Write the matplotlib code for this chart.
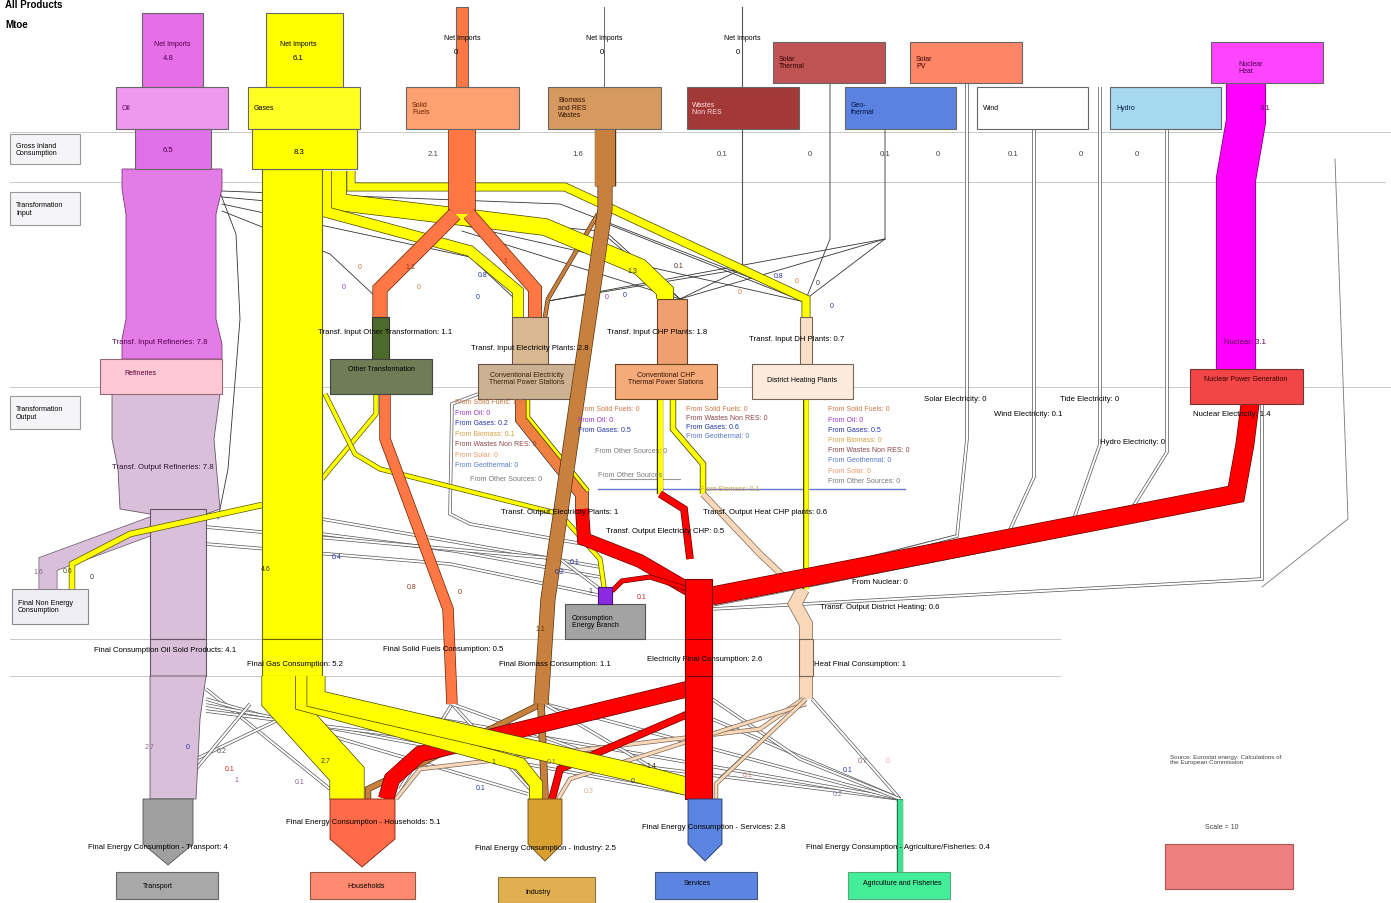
import matplotlib
matplotlib.use('Agg')
import matplotlib.pyplot as plt
import matplotlib.patheffects as pe
from matplotlib.patches import Polygon, Rectangle

plt.rcParams['font.family'] = ['Liberation Sans', 'DejaVu Sans']

# ---- values (Mtoe) ----
net_imports = [4.8, 6.1, 0, 0, 0]            # Oil, Gases, Solid, Biomass, Wastes
gic_values = [6.5, 8.3, 2.1, 1.6, 0.1, 0, 0.1, 0, 0.1, 0, 0]
nuclear_heat = 3.1
transf_in = [7.8, 1.1, 2.8, 1.8, 0.7]        # Refineries, Other, Elec, CHP, DH
gas_to_plants = [0.8, 1.3, 0.6]              # Elec, CHP, DH
solid_to_plants = [1.1, 1.0]                 # Other, Elec
biomass_final, biomass_to_elec = 1.1, 0.25
other_out_solid = 0.8
elec_out, chp_elec_out, chp_heat_out, dh_out = 1.0, 0.5, 0.6, 0.6
nuclear_elec = 1.4
non_energy_oil = 1.4
final_values = [4.1, 5.2, 0.5, 1.1, 2.6, 1]  # Oil, Gas, Solid, Biomass, Elec, Heat
gas_to_sectors = [2.7, 1.0, 1.4]             # Households, Industry, Services
elec_to_sectors = [1.2, 0.5]                 # Households, Industry
sector_values = [4, 5.1, 2.5, 2.8, 0.4]      # Transport, Households, Industry, Services, Agri

SCALE = 12.5  # px per Mtoe

fig = plt.figure(figsize=(13.91, 9.04), dpi=100)
ax = fig.add_axes([0, 0, 1, 1])
ax.set_xlim(0, 1391)
ax.set_ylim(904, 0)
ax.axis('off')


def fmt(v):
    return ('%g' % v)


def rect(x0, y0, x1, y1, fc, ec='#666666', lw=0.8, z=3):
    ax.add_patch(Rectangle((x0, y0), x1 - x0, y1 - y0, facecolor=fc,
                           edgecolor=ec, linewidth=lw, zorder=z))


def poly(pts, fc, ec='#666666', lw=0.6, z=2):
    ax.add_patch(Polygon(pts, closed=True, facecolor=fc, edgecolor=ec,
                         linewidth=lw, zorder=z))


def band(pts, value, color, ec='#333333', z=2.5, minw=3):
    w = max(value * SCALE, minw) * 0.72
    xs, ys = zip(*pts)
    ax.plot(xs, ys, color=color, lw=w, solid_joinstyle='miter',
            solid_capstyle='butt', zorder=z,
            path_effects=[pe.Stroke(linewidth=w + 1.0, foreground=ec), pe.Normal()])


def thin(pts, color='#333333', lw=0.6, z=1.5):
    xs, ys = zip(*pts)
    ax.plot(xs, ys, color=color, lw=lw, zorder=z, solid_joinstyle='miter')


def wire(pts, ec='#555555', z=1.6):
    band(pts, 0, 'white', ec=ec, z=z, minw=2.0)


def txt(x, y, s, size=5.6, color='black', ha='center', va='center', bold=False, z=6):
    ax.text(x, y, s, fontsize=size, color=color, ha=ha, va=va, zorder=z,
            fontweight='bold' if bold else 'normal', linespacing=1.1)


# ---- header + section lines ----
txt(5, 5, 'All Products', size=7, ha='left', bold=True)
txt(5, 25, 'Mtoe', size=7, ha='left', bold=True)
for y, x1 in [(133, 1391), (183, 1385), (388, 1391), (640, 1060), (677, 1060)]:
    thin([(10, y), (x1, y)], color='#c8c8c8', lw=0.7, z=0.5)
for (y0, y1, s) in [(135, 165, 'Gross Inland\nConsumption'), (193, 226, 'Transformation\nInput'),
                    (397, 430, 'Transformation\nOutput')]:
    rect(10, y0, 80, y1, '#f5f5f8', ec='#999999', lw=0.8)
    txt(16, (y0 + y1) / 2, s, size=5, ha='left')

# ---- top supply boxes ----
rect(142, 14, 203, 88, '#e66ee6')
txt(172, 44, 'Net Imports', size=5, color='#550055'); txt(168, 58, fmt(net_imports[0]), color='#550055')
rect(116, 88, 228, 130, '#ee99ee'); txt(122, 109, 'Oil', size=5, color='#550055', ha='left')
rect(266, 14, 343, 88, '#ffff00')
txt(298, 44, 'Net Imports', size=5); txt(298, 58, fmt(net_imports[1]))
rect(248, 88, 360, 130, '#ffff22'); txt(254, 109, 'Gases', size=5, ha='left')
rect(456, 8, 468, 88, '#ff7744', z=2)
txt(462, 38, 'Net Imports', size=5); txt(456, 52, fmt(net_imports[2]))
rect(406, 88, 519, 130, '#ffa070'); txt(412, 109, 'Solid\nFuels', size=5, ha='left', color='#662200')
thin([(604, 8), (604, 88)], color='#666666', lw=0.7)
txt(604, 38, 'Net Imports', size=5); txt(602, 52, fmt(net_imports[3]))
rect(548, 88, 661, 130, '#d69a60'); txt(558, 108, 'Biomass\nand RES\nWastes', size=5, ha='left', color='#331100')
thin([(742, 8), (742, 270)], color='#555555', lw=0.8)
txt(742, 38, 'Net Imports', size=5); txt(738, 52, fmt(net_imports[4]))
rect(687, 88, 799, 130, '#a33838'); txt(692, 109, 'Wastes\nNon RES', size=5, ha='left', color='#ffdddd')
rect(773, 43, 885, 84, '#c05454'); txt(779, 63, 'Solar\nThermal', size=5, ha='left', color='#330000')
rect(845, 88, 956, 130, '#5b82e0'); txt(851, 109, 'Geo-\nthermal', size=5, ha='left', color='#001144')
rect(910, 43, 1022, 84, '#ff8566'); txt(916, 63, 'Solar\nPV', size=5, ha='left', color='#330000')
rect(977, 88, 1088, 130, 'white'); txt(983, 109, 'Wind', size=5, ha='left')
rect(1110, 88, 1221, 130, '#a6d8ef'); txt(1116, 109, 'Hydro', size=5, ha='left', color='#002244')
rect(1211, 43, 1323, 84, '#ff44ff'); txt(1238, 68, 'Nuclear\nHeat', size=5, ha='left', color='#440044')

# gross inland consumption
rect(135, 130, 211, 170, '#e070e8'); txt(168, 151, fmt(gic_values[0]), color='#550055')
rect(252, 130, 357, 170, '#ffff00'); txt(299, 153, fmt(gic_values[1]))
for x, v in zip([433, 578, 722, 810, 885, 938, 1013, 1081, 1137], gic_values[2:]):
    txt(x, 155, fmt(v), color='#444444')

# ---- thin wires in transformation input ----
for pts in [[(742, 270), (680, 300)], [(742, 270), (805, 303)], [(742, 270), (548, 302)],
            [(830, 84), (830, 240), (806, 300)], [(885, 130), (885, 240), (806, 300)],
            [(885, 240), (680, 300)], [(885, 240), (548, 302)],
            [(222, 205), (470, 258), (515, 300)], [(222, 212), (330, 255), (378, 300)],
            [(222, 198), (600, 232), (680, 300)], [(222, 192), (560, 205), (805, 300)],
            [(605, 232), (680, 300)], [(610, 226), (805, 303)],
            [(462, 232), (680, 300)], [(462, 226), (805, 303)],
            [(211, 170), (236, 235), (240, 320), (228, 470), (218, 520)]]:
    thin(pts, color='#333333', lw=0.6)

# ---- oil / refineries ----
poly([(122, 170), (222, 170), (222, 190), (216, 215), (216, 320), (222, 345), (222, 360),
      (122, 360), (122, 340), (126, 320), (126, 215), (122, 190)], '#e47ce8', ec='#7a3a7a')
rect(100, 360, 222, 395, '#ffc8d6', ec='#996677')
txt(140, 374, 'Refineries', size=5, color='#550033')
txt(160, 343, 'Transf. Input Refineries: ' + fmt(transf_in[0]), color='#550055')
poly([(112, 395), (220, 395), (214, 440), (220, 510), (206, 515), (150, 515), (120, 510),
      (118, 470), (112, 440)], '#d9bfd9', ec='#665566')
txt(163, 468, 'Transf. Output Refineries: 7.8', color='#331133')
band([(165, 515), (165, 522), (48, 565), (48, 590)], non_energy_oil, '#d9bfd9', ec='#665566', z=2)
band([(262, 506), (130, 535), (72, 565), (72, 590)], 0.4, '#ffff00', ec='#555500', z=2.2)
rect(12, 590, 88, 625, '#eeeef4', ec='#888888')
txt(18, 607, 'Final Non Energy\nConsumption', size=5, ha='left')
rect(150, 510, 206, 640, '#d9bfd9', ec='#665566', z=2)
rect(150, 640, 206, 677, '#d9bfd9', ec='#665566', z=2)
poly([(150, 677), (206, 677), (200, 720), (196, 800), (150, 800)], '#d9bfd9', ec='#665566')
txt(165, 651, 'Final Consumption Oil Sold Products: ' + fmt(final_values[0]))

# ---- gas ----
band([(351, 172), (351, 188), (565, 188), (806, 300), (806, 365)], gas_to_plants[2], '#ffff00', ec='#444400')
band([(338, 172), (338, 203), (545, 228), (640, 268), (665, 292), (665, 300)], gas_to_plants[1], '#ffff00', ec='#444400')
band([(326, 172), (326, 213), (470, 252), (518, 292), (518, 318)], gas_to_plants[0], '#ffff00', ec='#444400')
rect(262, 170, 322, 640, '#ffff00', ec='#666600', z=2.6)
rect(262, 130, 357, 170, '#ffff00', ec='#666600', z=2.7)
rect(262, 640, 322, 677, '#ffff00', ec='#666600', z=2.6)
txt(295, 665, 'Final Gas Consumption: ' + fmt(final_values[1]))

# ---- solid fuels ----
band([(462, 130), (462, 215)], gic_values[2], '#ff7744', ec='#662200')
band([(455, 215), (380, 290), (380, 318)], solid_to_plants[0], '#ff7744', ec='#662200')
band([(469, 215), (535, 290), (535, 318)], solid_to_plants[1], '#ff7744', ec='#662200')

# ---- plants ----
rect(372, 318, 389, 360, '#4b6a2b', ec='#333333')
rect(330, 360, 432, 395, '#6e7d55', ec='#444444')
txt(381, 370, 'Other Transformation', size=5)
rect(512, 318, 548, 365, '#d8b890', ec='#665544')
rect(478, 365, 578, 400, '#cdb193', ec='#665544')
txt(527, 379, 'Conventional Electricity\nThermal Power Stations', size=5, color='#332200')
rect(657, 300, 687, 365, '#f0a070', ec='#664422')
rect(615, 365, 717, 400, '#f5aa7a', ec='#664422')
txt(666, 379, 'Conventional CHP\nThermal Power Stations', size=5, color='#331100')
rect(800, 318, 812, 365, '#f9dfc8', ec='#776655')
rect(752, 365, 853, 400, '#fcebdc', ec='#776655')
txt(802, 381, 'District Heating Plants', size=5)
rect(1190, 370, 1303, 405, '#f24646', ec='#773333')
txt(1246, 380, 'Nuclear Power Generation', size=5, color='#330000')

txt(385, 333, 'Transf. Input Other Transformation: ' + fmt(transf_in[1]))
txt(530, 349, 'Transf. Input Electricity Plants: ' + fmt(transf_in[2]))
txt(657, 333, 'Transf. Input CHP Plants: ' + fmt(transf_in[3]))
txt(797, 340, 'Transf. Input DH Plants: ' + fmt(transf_in[4]))

# ---- biomass ----
band([(605, 130), (605, 187)], gic_values[3], '#c8803e', ec='#553311')
band([(598, 215), (548, 300), (545, 318)], biomass_to_elec, '#c8803e', ec='#553311', z=2.4)
band([(605, 187), (605, 210), (548, 600), (541, 705)], biomass_final, '#c8803e', ec='#553311', z=3.5)

# ---- nuclear ----
band([(1246, 84), (1246, 122), (1236, 180), (1236, 370)], nuclear_heat, '#ff00ff', ec='#660066')
txt(1265, 108, fmt(nuclear_heat), color='#660066')
txt(1245, 343, 'Nuclear: ' + fmt(nuclear_heat), color='#550055')

# ---- transformation output wires ----
for pts in [[(478, 395), (452, 405), (450, 515), (470, 525), (600, 548)],
            [(322, 520), (600, 568)], [(322, 535), (455, 552), (600, 578)],
            [(206, 528), (560, 560), (600, 590)], [(206, 545), (450, 565), (598, 596)],
            [(967, 84), (967, 440), (957, 537), (712, 598)],
            [(1034, 130), (1034, 478), (1007, 537), (712, 600)],
            [(1100, 88), (1100, 445), (1071, 528), (712, 603)],
            [(1167, 130), (1167, 453), (1123, 524), (712, 606)],
            [(1262, 405), (1262, 580), (712, 610)],
            [(957, 537), (712, 600)]]:
    wire(pts)
thin([(598, 490), (905, 490)], color='#6677cc', lw=1.0)
thin([(610, 480), (680, 480)], color='#999999', lw=0.8)
thin([(1335, 160), (1348, 520), (1262, 588)], color='#777777', lw=0.6)

band([(376, 395), (376, 415), (330, 470), (322, 480)], 0.3, '#ffff00', ec='#555500')
band([(325, 395), (355, 455), (380, 470), (560, 515), (600, 560), (604, 588)], 0.3, '#ffff00', ec='#555500')
band([(385, 395), (385, 440), (448, 610), (452, 705)], other_out_solid, '#ff7744', ec='#662200')

# electricity plants output
band([(522, 400), (522, 420), (582, 495), (582, 512)], elec_out, '#f08040', ec='#333333')
band([(528, 400), (528, 418), (588, 492)], 0.2, '#ffff00', ec='#333300', z=2.6)
band([(582, 510), (584, 540), (640, 562), (688, 590)], elec_out, '#ff0000', ec='#660000')
# CHP output
band([(660, 400), (660, 495)], 0.4, '#ffff00', ec='#333300')
band([(673, 400), (673, 430), (703, 465), (703, 495)], 0.4, '#ffff00', ec='#333300')
band([(660, 495), (684, 510), (690, 560)], chp_elec_out, '#ff0000', ec='#660000')
band([(703, 495), (760, 555), (797, 590)], chp_heat_out * 0.7, '#f8d8b8', ec='#776655')
# DH output
band([(806, 400), (806, 590)], dh_out * 0.6, '#ffff00', ec='#444400')
band([(803, 590), (795, 605), (806, 625), (806, 700)], final_values[5], '#f8d8b8', ec='#776655')
rect(799, 640, 813, 677, '#f8d8b8', ec='#776655', z=2.7)

# electricity
band([(1250, 405), (1245, 445), (1236, 495), (712, 597)], nuclear_elec, '#ff0000', ec='#660000', z=2.8)
band([(688, 590), (650, 578), (622, 582), (612, 592)], 0.3, '#ff0000', ec='#660000')
rect(685, 580, 712, 800, '#ff0000', ec='#770000', z=2.9)
rect(685, 640, 712, 677, '#ff0000', ec='#770000', z=2.9)
band([(688, 690), (420, 755), (392, 780), (386, 800)], elec_to_sectors[0], '#ff0000', ec='#660000', z=2.6)
band([(688, 715), (560, 770), (552, 800)], elec_to_sectors[1], '#ff0000', ec='#660000', z=2.6)

rect(565, 605, 645, 640, '#a3a3a3', ec='#555555')
txt(572, 622, 'Consumption\nEnergy Branch', size=5, ha='left')
rect(598, 588, 612, 605, '#8a2be2', ec='#441177', z=3.1)

# ---- final consumption distribution ----
for pts in [[(206, 690), (330, 790)], [(206, 700), (528, 795)], [(206, 706), (688, 795)],
            [(206, 712), (900, 800)], [(322, 700), (900, 800)], [(712, 720), (900, 800)],
            [(812, 700), (900, 800)], [(545, 705), (900, 800)], [(545, 705), (688, 790)],
            [(452, 705), (400, 790)], [(452, 705), (530, 790)], [(452, 705), (688, 790)],
            [(712, 700), (800, 760), (900, 800)], [(806, 700), (720, 780)],
            [(196, 760), (322, 700)], [(196, 770), (250, 705)]]:
    wire(pts)
band([(541, 705), (420, 765), (368, 790), (368, 800)], 0.4, '#c8803e', ec='#553311')
band([(541, 705), (545, 800)], 0.5, '#c8803e', ec='#553311')
band([(803, 700), (760, 730), (420, 770), (396, 800)], 0.25, '#f8d8b8', ec='#776655')
band([(806, 705), (570, 780), (558, 800)], 0.15, '#f8d8b8', ec='#776655')
band([(806, 700), (716, 785), (716, 800)], 0.2, '#f8d8b8', ec='#776655')
band([(279, 677), (279, 700), (347, 775), (347, 800)], gas_to_sectors[0], '#ffff00', ec='#444400', z=2.7)
band([(302, 677), (302, 705), (520, 765), (536, 785), (536, 800)], gas_to_sectors[1], '#ffff00', ec='#444400', z=2.75)
band([(316, 677), (316, 700), (640, 775), (697, 790), (697, 800)], gas_to_sectors[2], '#ffff00', ec='#444400', z=2.8)

# sector arrows and boxes
poly([(143, 800), (193, 800), (193, 845), (168, 866), (143, 845)], '#a0a0a0', ec='#555555', z=3)
rect(116, 873, 218, 900, '#a8a8a8', ec='#666666')
txt(158, 887, 'Transport', size=5)
poly([(330, 800), (395, 800), (395, 840), (362, 868), (330, 840)], '#ff6a48', ec='#772211', z=3)
rect(310, 873, 415, 900, '#ff8a70', ec='#995544')
txt(366, 887, 'Households', size=5)
poly([(528, 800), (562, 800), (562, 845), (545, 862), (528, 845)], '#d8a030', ec='#664411', z=3)
rect(498, 878, 595, 904, '#e0b050', ec='#887744')
txt(538, 893, 'Industry', size=5)
poly([(688, 800), (722, 800), (722, 845), (705, 862), (688, 845)], '#5b85e0', ec='#223366', z=3)
rect(655, 873, 757, 900, '#5b85e0', ec='#445588')
txt(697, 884, 'Services', size=5)
band([(900, 800), (900, 873)], sector_values[4], '#40e090', ec='#207050', z=3)
rect(848, 873, 950, 900, '#44ee99', ec='#55aa77')
txt(902, 884, 'Agriculture and Fisheries', size=5)

txt(158, 848, 'Final Energy Consumption - Transport: ' + fmt(sector_values[0]))
txt(363, 823, 'Final Energy Consumption - Households: ' + fmt(sector_values[1]))
txt(545, 849, 'Final Energy Consumption - Industry: ' + fmt(sector_values[2]))
txt(714, 828, 'Final Energy Consumption - Services: ' + fmt(sector_values[3]))
txt(898, 848, 'Final Energy Consumption - Agriculture/Fisheries: ' + fmt(sector_values[4]))

# final consumption labels
txt(443, 650, 'Final Solid Fuels Consumption: ' + fmt(final_values[2]))
txt(555, 665, 'Final Biomass Consumption: ' + fmt(final_values[3]))
txt(705, 660, 'Electricity Final Consumption: ' + fmt(final_values[4]))
txt(860, 665, 'Heat Final Consumption: ' + fmt(final_values[5]))

# transformation output labels
txt(560, 512, 'Transf. Output Electricity Plants: 1')
txt(765, 512, 'Transf. Output Heat CHP plants: 0.6')
txt(665, 532, 'Transf. Output Electricity CHP: 0.5')
txt(880, 608, 'Transf. Output District Heating: 0.6')
txt(880, 583, 'From Nuclear: 0')
txt(955, 400, 'Solar Electricity: 0')
txt(1028, 415, 'Wind Electricity: 0.1')
txt(1090, 400, 'Tide Electricity: 0')
txt(1132, 443, 'Hydro Electricity: 0')
txt(1232, 415, 'Nuclear Electricity: ' + fmt(nuclear_elec))

from_colors = {'Solid Fuels': '#cc7744', 'Oil': '#9933cc', 'Gases': '#2233aa', 'Biomass': '#d4a040',
               'Wastes Non RES': '#884444', 'Solar': '#ee9966', 'Geothermal': '#5577cc',
               'Other Sources': '#777777'}
elec_from = [('Solid Fuels', '1.5'), ('Oil', '0'), ('Gases', '0.2'), ('Biomass', '0.1'),
             ('Wastes Non RES', '0'), ('Solar', '0'), ('Geothermal', '0')]
for i, (k, v) in enumerate(elec_from):
    txt(455, 403 + i * 10.5, 'From %s: %s' % (k, v), size=5, color=from_colors[k], ha='left')
txt(470, 480, 'From Other Sources: 0', size=5, color='#777777', ha='left')
chp_from = [('Solid Fuels', '0'), ('Oil', '0'), ('Gases', '0.5')]
for i, (k, v) in enumerate(chp_from):
    txt(578, 410 + i * 10.5, 'From %s: %s' % (k, v), size=5, color=from_colors[k], ha='left')
txt(595, 452, 'From Other Sources: 0', size=5, color='#777777', ha='left')
chp_heat_from = [('Solid Fuels', '0'), ('Wastes Non RES', '0'), ('Gases', '0.6'), ('Geothermal', '0')]
for i, (k, v) in enumerate(chp_heat_from):
    txt(686, 410 + i * 9, 'From %s: %s' % (k, v), size=5, color=from_colors[k], ha='left')
dh_from = [('Solid Fuels', '0'), ('Oil', '0'), ('Gases', '0.5'), ('Biomass', '0'),
           ('Wastes Non RES', '0'), ('Geothermal', '0'), ('Solar', '0'), ('Other Sources', '0')]
for i, (k, v) in enumerate(dh_from):
    txt(828, 410 + i * 10.2, 'From %s: %s' % (k, v), size=5, color=from_colors[k], ha='left')
txt(598, 476, 'From Other Sources', size=5, color='#777777', ha='left')
txt(700, 490, 'From Biomass: 0.1', size=5, color='#d4a040', ha='left')

# small flow numbers
for x, y, s, c in [(360, 268, '0', '#cc7744'), (344, 288, '0', '#9933cc'), (419, 288, '0', '#cc7744'),
                   (410, 268, '1.1', '#993311'), (505, 262, '1', '#993311'),
                   (483, 276, '0.8', '#2233aa'), (478, 298, '0', '#2233aa'), (632, 272, '1.3', '#333300'),
                   (679, 267, '0.1', '#553311'), (607, 298, '0', '#9933cc'), (625, 296, '0', '#2233aa'),
                   (779, 277, '0.8', '#2233aa'), (797, 282, '0', '#cc7744'), (818, 284, '0', '#333333'),
                   (832, 307, '0', '#2233aa'), (740, 293, '0', '#cc7744'),
                   (38, 573, '1.6', '#886688'), (68, 572, '0.6', '#555500'), (92, 578, '0', '#333333'),
                   (266, 570, '4.6', '#333300'), (337, 558, '0.4', '#2233aa'), (412, 588, '0.8', '#993311'),
                   (460, 593, '0', '#993311'), (540, 630, '1.1', '#553311'), (575, 563, '0.1', '#2233aa'),
                   (560, 573, '0.2', '#2233aa'), (590, 592, '1', '#333333'), (642, 598, '0.1', '#cc2222'),
                   (150, 748, '2.7', '#886688'), (188, 748, '0', '#2233aa'), (222, 752, '0.2', '#555555'),
                   (230, 770, '0.1', '#cc2222'), (236, 781, '1', '#886688'), (300, 783, '0.1', '#886688'),
                   (326, 762, '2.7', '#333300'), (493, 763, '1', '#333300'), (481, 789, '0.1', '#2233aa'),
                   (552, 763, '0.1', '#886688'), (589, 792, '0.3', '#ddaa88'), (651, 767, '1.4', '#333300'),
                   (633, 782, '0', '#2233aa'), (748, 776, '0.1', '#cc8888'), (863, 762, '0.7', '#886688'),
                   (888, 762, '0', '#ee99aa'), (848, 771, '0.1', '#2233aa'), (838, 795, '0.2', '#8877aa')]:
    txt(x, y, s, size=5, color=c)

# source + scale
txt(1170, 760, 'Source: Eurostat energy: Calculations of\nthe European Commission', size=4.5, ha='left', color='#444444')
txt(1222, 828, 'Scale = 10', size=5, color='#444444')
rect(1165, 845, 1293, 890, '#f08080', ec='#aa5555')

fig.savefig('out.png', dpi=100)
